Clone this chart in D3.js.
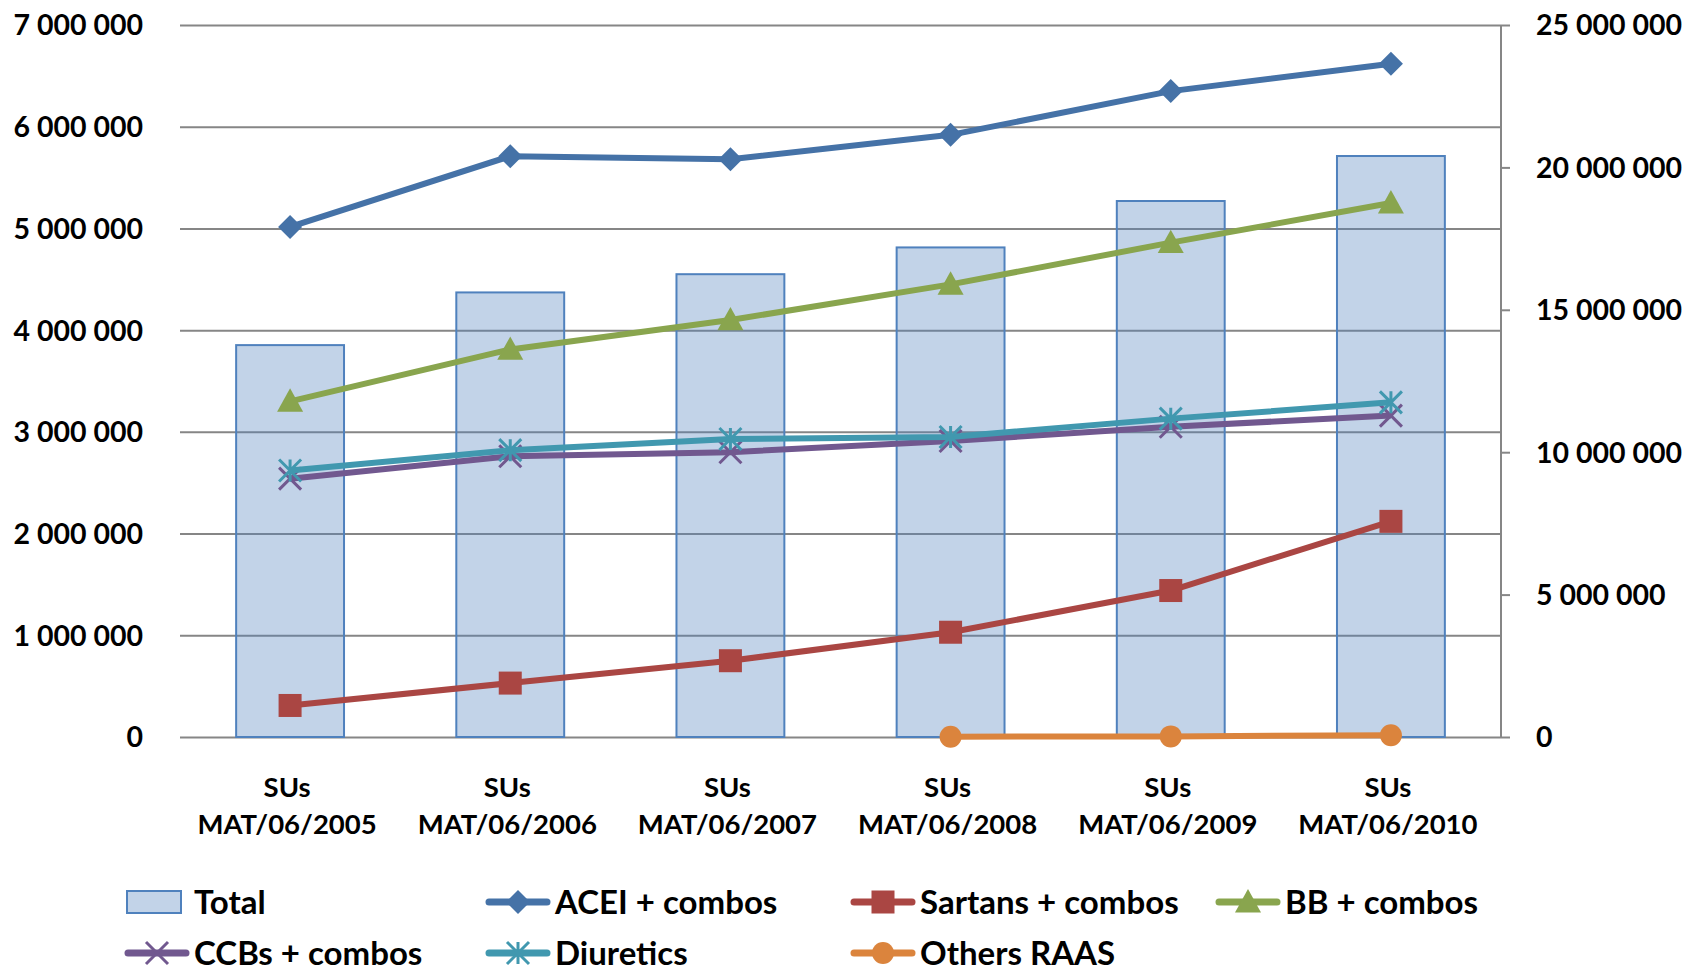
<!DOCTYPE html>
<html>
<head>
<meta charset="utf-8">
<script src="https://cdn.jsdelivr.net/npm/d3@7"></script>
<style>
  body { margin: 0; background: #fff; }
  svg text { font-family: Lato, "Open Sans", sans-serif; font-weight: 700; fill: #000; }
</style>
</head>
<body>
<div id="chart"></div>
<script>
const categories = ["MAT/06/2005", "MAT/06/2006", "MAT/06/2007", "MAT/06/2008", "MAT/06/2009", "MAT/06/2010"];
const totalValues = [13760000, 15610000, 16250000, 17190000, 18820000, 20400000];
const aceiValues = [5015000, 5710000, 5680000, 5920000, 6350000, 6620000];
const sartansValues = [310000, 530000, 750000, 1030000, 1440000, 2120000];
const bbValues = [3300000, 3810000, 4100000, 4450000, 4860000, 5250000];
const ccbValues = [2540000, 2760000, 2800000, 2910000, 3050000, 3160000];
const diureticValues = [2620000, 2820000, 2930000, 2950000, 3130000, 3290000];
const othersValues = [null, null, null, 3000, 6000, 18000];
const leftTicks = [0, 1000000, 2000000, 3000000, 4000000, 5000000, 6000000, 7000000];
const rightTicks = [0, 5000000, 10000000, 15000000, 20000000, 25000000];

const lineSeries = [
  { name: "ACEI + combos", values: aceiValues, color: "#4572A7", marker: "diamond" },
  { name: "Sartans + combos", values: sartansValues, color: "#AA4643", marker: "square" },
  { name: "BB + combos", values: bbValues, color: "#89A54E", marker: "triangle" },
  { name: "CCBs + combos", values: ccbValues, color: "#71588F", marker: "x" },
  { name: "Diuretics", values: diureticValues, color: "#4198AF", marker: "star" },
  { name: "Others RAAS", values: othersValues, color: "#DB843D", marker: "circle" }
];

const width = 1685, height = 970;
const margin = { top: 25, right: 184, bottom: 233, left: 180 };
const innerW = width - margin.left - margin.right;
const innerH = height - margin.top - margin.bottom;

const svg = d3.select("#chart").append("svg").attr("width", width).attr("height", height);
const chart = svg.append("g").attr("transform", `translate(${margin.left},${margin.top})`);

const x = d3.scaleBand().domain(categories).range([0, innerW]).paddingInner(0.51).paddingOuter(0.255);
const yL = d3.scaleLinear().domain([0, 7000000]).range([innerH, 0]);
const yR = d3.scaleLinear().domain([0, 25000000]).range([innerH, 0]);
const fmt = v => d3.format(",")(v).replace(/,/g, " ");
const cx = c => x(c) + x.bandwidth() / 2;

// gridlines
chart.append("g")
  .call(d3.axisLeft(yL).tickValues(leftTicks).tickSize(-innerW).tickFormat(""))
  .call(g => g.select(".domain").remove())
  .selectAll("line").attr("stroke", "#868686").attr("stroke-width", 2);

// bars (semi-transparent so gridlines show through)
chart.selectAll(".bar").data(categories).enter().append("rect")
  .attr("x", d => x(d)).attr("width", x.bandwidth())
  .attr("y", (d, i) => yR(totalValues[i])).attr("height", (d, i) => innerH - yR(totalValues[i]))
  .attr("fill", "rgba(79,129,189,0.35)").attr("stroke", "#4F81BD").attr("stroke-width", 2);

// left labels
const leftAxis = chart.append("g")
  .call(d3.axisLeft(yL).tickValues(leftTicks).tickSize(0).tickPadding(37).tickFormat(fmt));
leftAxis.select(".domain").remove();
leftAxis.selectAll("text").style("font-size", "28.5px").attr("dy", "0.35em");

// right axis
const rightAxis = chart.append("g").attr("transform", `translate(${innerW},0)`)
  .call(d3.axisRight(yR).tickValues(rightTicks).tickSize(9).tickPadding(26).tickFormat(fmt));
rightAxis.select(".domain").attr("stroke", "#868686").attr("stroke-width", 2).attr("d", `M0,0V${innerH}`);
rightAxis.selectAll("line").attr("stroke", "#868686").attr("stroke-width", 2);
rightAxis.selectAll("text").style("font-size", "28.5px").attr("dy", "0.35em");

// x labels
const xl = chart.append("g").attr("transform", `translate(0,${innerH})`);
categories.forEach(c => {
  const t = xl.append("text").attr("x", cx(c)).attr("text-anchor", "middle").style("font-size", "27.5px");
  t.append("tspan").attr("x", cx(c) - 3).attr("y", 60).text("SUs");
  t.append("tspan").attr("x", cx(c) - 3).attr("y", 97).text(c);
});

function drawMarker(g, type, color, s) {
  const h = s / 2;
  if (type === "diamond") g.append("path").attr("d", `M0,${-h}L${h},0L0,${h}L${-h},0Z`).attr("fill", color);
  else if (type === "square") g.append("rect").attr("x", -h).attr("y", -h).attr("width", s).attr("height", s).attr("fill", color);
  else if (type === "triangle") g.append("path").attr("d", `M0,${-h}L${h},${h * 0.8}L${-h},${h * 0.8}Z`).attr("fill", color);
  else if (type === "circle") g.append("circle").attr("r", h).attr("fill", color);
  else {
    const p = `M${-h},${-h}L${h},${h}M${-h},${h}L${h},${-h}` + (type === "star" ? `M0,${-h}V${h}` : "");
    g.append("path").attr("d", p).attr("stroke", color).attr("stroke-width", 3).attr("fill", "none");
  }
}
const markerSize = { diamond: 24, square: 23, triangle: 26, circle: 22, x: 22, star: 22 };

const line = d3.line().defined(d => d != null).x((d, i) => cx(categories[i])).y(d => yL(d));
lineSeries.forEach(s => {
  chart.append("path").attr("d", line(s.values)).attr("fill", "none")
    .attr("stroke", s.color).attr("stroke-width", 6).attr("stroke-linejoin", "round");
  s.values.forEach((v, i) => {
    if (v == null) return;
    const g = chart.append("g").attr("transform", `translate(${cx(categories[i])},${yL(v)})`);
    drawMarker(g, s.marker, s.color, markerSize[s.marker]);
  });
});

// legend
const legendRows = [
  [{ type: "bar", name: "Total" }, lineSeries[0], lineSeries[1], lineSeries[2]],
  [lineSeries[3], lineSeries[4], lineSeries[5]]
];
const colX = [126, 487, 852, 1217];
const rowY = [902, 953];
legendRows.forEach((row, r) => {
  row.forEach((item, c) => {
    const g = svg.append("g").attr("transform", `translate(${colX[c]},${rowY[r]})`);
    if (item.type === "bar") {
      g.append("rect").attr("x", 1).attr("y", -11).attr("width", 54).attr("height", 22)
        .attr("fill", "rgba(79,129,189,0.35)").attr("stroke", "#4F81BD").attr("stroke-width", 2);
    } else {
      g.append("line").attr("x1", 2).attr("x2", 60).attr("stroke", item.color)
        .attr("stroke-width", 7).attr("stroke-linecap", "round");
      const m = g.append("g").attr("transform", "translate(31,0)");
      drawMarker(m, item.marker, item.color, markerSize[item.marker]);
    }
    g.append("text").attr("x", 68).attr("dy", "0.35em").style("font-size", "33px").text(item.name);
  });
});
</script>
</body>
</html>
